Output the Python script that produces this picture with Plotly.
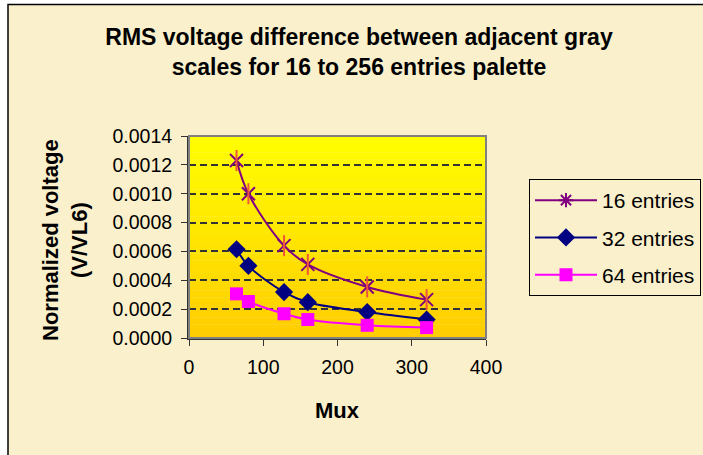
import plotly.graph_objects as go

mux = [64, 80, 128, 160, 240, 320]
entries16 = [0.00123, 0.00100, 0.00064, 0.00051, 0.000354, 0.000266]
entries32 = [0.000615, 0.000500, 0.000318, 0.000248, 0.000180, 0.000128]
entries64 = [0.000306, 0.000253, 0.000168, 0.000128, 0.000088, 0.000072]
names = ["16 entries", "32 entries", "64 entries"]
colors = ["#800080", "#000080", "#FF00FF"]
yticks = [0, 0.0002, 0.0004, 0.0006, 0.0008, 0.0010, 0.0012, 0.0014]
xticks = [0, 100, 200, 300, 400]

FONT = "Liberation Sans, Arial, sans-serif"
BG = "#FAF0CC"

fig = go.Figure()

# 16 entries: star = X + vertical bar
fig.add_trace(go.Scatter(x=mux, y=entries16, mode="lines+markers", showlegend=False,
                         legendgroup="g1", line=dict(color=colors[0], width=2, shape="spline", smoothing=1),
                         marker=dict(symbol="x-thin-open", size=13, line=dict(color=colors[0], width=2))))
fig.add_trace(go.Scatter(x=mux, y=entries16, mode="markers", showlegend=False, legendgroup="g1",
                         marker=dict(symbol="line-ns-open", size=15, line=dict(color=colors[0], width=2))))
fig.add_trace(go.Scatter(x=[None], y=[None], mode="lines+markers", name=names[0], legendgroup="g1",
                         line=dict(color=colors[0], width=2),
                         marker=dict(symbol="asterisk-open", size=12, line=dict(color=colors[0], width=2))))
fig.add_trace(go.Scatter(x=mux, y=entries32, mode="lines+markers", name=names[1], legendgroup="g2",
                         line=dict(color=colors[1], width=2, shape="spline", smoothing=1),
                         marker=dict(symbol="diamond", size=14, color=colors[1])))
fig.add_trace(go.Scatter(x=mux, y=entries64, mode="lines+markers", name=names[2], legendgroup="g3",
                         line=dict(color=colors[2], width=2, shape="spline", smoothing=1),
                         marker=dict(symbol="square", size=13, color=colors[2])))

shapes = []
L, R, T, B = 189, 217, 136, 117
PW, PH = 703 - L - R, 455 - T - B
def px_x(p):
    return (p - L) / PW
def px_y(p):
    return (455 - B - p) / PH
# outer chart border (white margin left/top)
shapes.append(dict(type="rect", xref="paper", yref="paper", layer="below",
                   x0=px_x(8), x1=px_x(720), y0=px_y(470), y1=px_y(4.5),
                   fillcolor=BG, line=dict(color="black", width=1.5)))
# gradient plot background
N = 60
for i in range(N):
    t = i / N
    g = int(round(204 + (255 - 204) * (t + 0.5 / N)))
    shapes.append(dict(type="rect", xref="x domain", yref="y domain", layer="below",
                       x0=0, x1=1, y0=t, y1=(i + 1) / N + 0.002,
                       fillcolor=f"rgb(255,{g},0)", line=dict(width=0)))
# plot border (grey top/right)
shapes.append(dict(type="rect", xref="x domain", yref="y domain", layer="above",
                   x0=0, x1=1, y0=0, y1=1, line=dict(color="#808080", width=2)))

annotations = [
    dict(text="Normalized voltage<br>(V/VL6)", textangle=-90, xref="paper", yref="paper",
         x=px_x(65), y=px_y(240), xanchor="center", yanchor="middle", showarrow=False,
         font=dict(family=FONT, size=22, color="black", weight="bold")),
    dict(text="Mux", xref="paper", yref="paper", x=px_x(337), y=px_y(410),
         xanchor="center", yanchor="middle", showarrow=False,
         font=dict(family=FONT, size=22, color="black", weight="bold")),
]

fig.update_layout(
    width=703, height=455,
    margin=dict(l=L, r=R, t=T, b=B, autoexpand=False),
    paper_bgcolor="white", plot_bgcolor="rgba(0,0,0,0)",
    font=dict(family=FONT, color="black", size=19.5),
    title=dict(text="RMS voltage difference between adjacent gray<br>scales for 16 to 256 entries palette",
               xref="container", yref="container", x=359 / 703, y=1 - 45 / 455,
               xanchor="center", yanchor="middle",
               font=dict(family=FONT, size=23, color="black", weight="bold")),
    xaxis=dict(range=[0, 400], tickvals=xticks, ticktext=[str(v) for v in xticks],
               showgrid=False, zeroline=False, showline=True, linecolor="#333333", linewidth=2,
               ticks="outside", ticklen=6, tickcolor="#333333", tickwidth=1,
               tickfont=dict(size=19.5), ticklabelstandoff=5),
    yaxis=dict(range=[0, 0.0014], tickvals=yticks, ticktext=[f"{v:.4f}" for v in yticks],
               showgrid=True, gridcolor="#333333", gridwidth=1.5, griddash="7px,4px",
               zeroline=False, showline=True, linecolor="#333333", linewidth=2,
               ticks="outside", ticklen=6, tickcolor="#333333", tickwidth=1,
               tickfont=dict(size=19.5), ticklabelstandoff=5),
    legend=dict(x=px_x(529), y=px_y(179), xanchor="left", yanchor="top",
                bgcolor=BG, bordercolor="black", borderwidth=1,
                font=dict(family=FONT, size=21, color="black"),
                itemwidth=62, tracegroupgap=7),
    shapes=shapes, annotations=annotations,
)

fig.write_html("out.html")
